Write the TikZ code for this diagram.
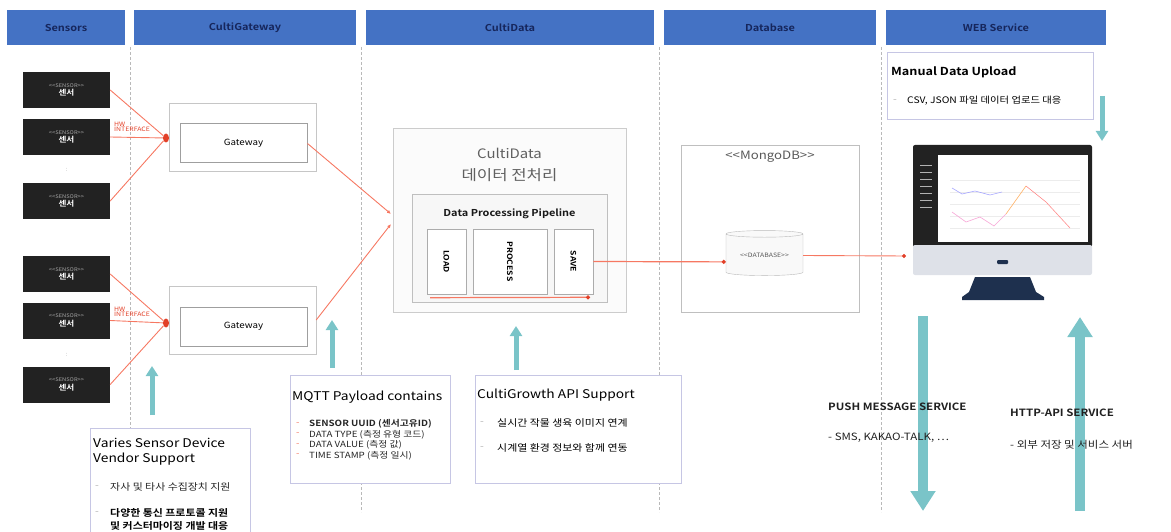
\documentclass[tikz,border=0pt]{standalone}
\usepackage{fontspec}
\setmainfont{Noto Sans CJK KR}[BoldFont={Noto Sans CJK KR Bold}, FakeStretch=1.15]
\usepackage{tikz}
\usetikzlibrary{positioning,arrows.meta,shapes.geometric}

\definecolor{hdrblue}{RGB}{68,114,196}
\definecolor{hdrtext}{RGB}{22,38,92}
\definecolor{sensblack}{RGB}{34,34,34}
\definecolor{wirered}{RGB}{246,120,98}
\definecolor{dotred}{RGB}{226,64,40}
\definecolor{flowteal}{RGB}{122,196,200}
\definecolor{noteline}{RGB}{198,198,228}
\definecolor{monnavy}{RGB}{30,48,78}
\definecolor{chingray}{RGB}{222,225,232}

\newcommand{\fs}[1]{\fontsize{#1}{#1}\selectfont}

\tikzset{
  header/.style={fill=hdrblue, minimum height=35pt, inner sep=0pt,
    font=\bfseries\fs{9.5}, text=hdrtext},
  lane/.style={gray!55, densely dashed, line width=0.5pt},
  sensor/.style={fill=sensblack, minimum width=87pt, minimum height=36pt,
    inner sep=0pt, align=center, text=white, font=\fs{5}},
  gwouter/.style={draw=gray!45, minimum width=147pt, minimum height=68pt},
  gwinner/.style={draw=gray!75, line width=1pt, minimum width=127pt,
    minimum height=39pt, font=\fs{8.5}},
  junction/.style={ellipse, fill=dotred, inner sep=0pt, minimum width=6pt,
    minimum height=9pt},
  hwlabel/.style={text=dotred, font=\fs{6}, align=left, inner sep=0pt},
  wire/.style={draw=wirered, line width=0.9pt},
  flatwire/.style={draw=wirered, line width=1.2pt},
  stagebox/.style={draw=gray!65, line width=0.8pt, fill=white, minimum width=39pt,
    minimum height=65pt, font=\bfseries\fs{7.5}},
  notebox/.style={draw=noteline, line width=0.8pt, fill=white, anchor=north west},
  notehead/.style={anchor=west, inner sep=0pt, font=\fs{12}},
  noteitem/.style={anchor=west, inner sep=0pt, font=\fs{9.5}},
  bigflow/.style={flowteal, line width=10pt, -{Triangle[length=20pt,width=24pt]}},
  smallflow/.style={flowteal, line width=5pt, -{Triangle[length=10pt,width=12pt]}},
  pointer/.style={-{Latex[length=4pt,width=3.5pt]}},
  dottip/.style={-{Circle[length=4pt,color=dotred,fill=dotred]}},
}

\begin{document}
\begin{tikzpicture}[x=1pt, y=-1pt]
  \useasboundingbox (0,0) rectangle (1171,532);

  % swim lanes
  \foreach \x in {130,361,659,881}
    \draw[lane] (\x,47) -- (\x,512);

  % lane headers
  \node[header, minimum width=118pt] (hsens) at (66,27.5) {Sensors};
  \node[header, minimum width=222pt] (hgw) at (245,27.5) {CultiGateway};
  \node[header, minimum width=288pt] (hdata) at (510,27.5) {CultiData};
  \node[header, minimum width=212pt] (hdb) at (770,27.5) {Database};
  \node[header, minimum width=220pt] (hweb) at (996,27.5) {WEB Service};

  % sensor devices, two groups
  \node[sensor] (s1) at (66.5,90) {{\color{gray!70}<{}<SENSOR>{}>}\\[1pt]{\bfseries\fs{7.5}센서}};
  \node[sensor] (s2) at (66.5,137) {{\color{gray!70}<{}<SENSOR>{}>}\\[1pt]{\bfseries\fs{7.5}센서}};
  \node[sensor] (s3) at (66.5,201) {{\color{gray!70}<{}<SENSOR>{}>}\\[1pt]{\bfseries\fs{7.5}센서}};
  \node[text=gray!60, font=\fs{6}] (dots1) at (66.5,170) {:};
  \node[sensor] (s4) at (66.5,274) {{\color{gray!70}<{}<SENSOR>{}>}\\[1pt]{\bfseries\fs{7.5}센서}};
  \node[sensor] (s5) at (66.5,320.5) {{\color{gray!70}<{}<SENSOR>{}>}\\[1pt]{\bfseries\fs{7.5}센서}};
  \node[sensor] (s6) at (66.5,384.5) {{\color{gray!70}<{}<SENSOR>{}>}\\[1pt]{\bfseries\fs{7.5}센서}};
  \node[text=gray!60, font=\fs{6}] (dots2) at (66.5,355) {:};

  % gateways
  \node[gwouter] (gw1box) at (242.5,137) {};
  \node[gwinner] (gw1) at (243.5,143.5) {Gateway};
  \node[gwouter] (gw2box) at (242.5,320) {};
  \node[gwinner] (gw2) at (243.5,326.5) {Gateway};
  \node[junction] (j1) at (166,138) {};
  \node[junction] (j2) at (166,323) {};

  % sensor wiring
  \foreach \s in {s1,s2,s3}
    \draw[wire] (\s.east) -- (j1);
  \foreach \s in {s4,s5,s6}
    \draw[wire] (\s.east) -- (j2);
  \node[hwlabel, anchor=south west] (hw1) at (114,132) {HW\\[-1pt]INTERFACE};
  \node[hwlabel, anchor=south west] (hw2) at (114,317) {HW\\[-1pt]INTERFACE};

  % preprocessing block
  \node[draw=gray!40, fill=gray!3, minimum width=233pt, minimum height=184pt] (cdbox) at (509.5,220) {};
  \node[font=\fs{13}, text=gray!75!black] (cdtitle) at (509.5,153) {CultiData};
  \node[font=\fs{14.5}, text=gray!75!black] (cdtitle2) at (509.5,175) {데이터 전처리};
  \node[draw=gray!50, fill=gray!6, minimum width=195pt, minimum height=108pt] (pipe) at (509.5,248) {};
  \node[font=\bfseries\fs{9.5}, text=gray!20!black] (pipetitle) at (509.5,214) {Data Processing Pipeline};
  \node[stagebox] (load) at (446.5,261.5) {\rotatebox{-90}{LOAD}};
  \node[stagebox, minimum width=74pt] (process) at (510,261.5) {\rotatebox{-90}{PROCESS}};
  \node[stagebox] (save) at (573.5,261.5) {\rotatebox{-90}{SAVE}};
  \coordinate (pl0) at (430,297.7);
  \coordinate (pl1) at (590,297.3);
  \draw[flatwire, dottip] (pl0) -- (pl1);

  % gateway uplinks
  \coordinate (cdin1) at (391,214);
  \coordinate (cdin2) at (391,224);
  \draw[wire, pointer] (gw1.east) -- (cdin1);
  \draw[wire, pointer] (gw2box.east) -- (cdin2);

  % storage
  \node[draw=gray!50, minimum width=178pt, minimum height=167pt] (mongo) at (770,228.5) {};
  \node[font=\fs{11.5}, text=gray!70!black] (mongotitle) at (770,157) {<{}<MongoDB>{}>};
  \node[cylinder, shape border rotate=90, aspect=0.12, draw=gray!55, fill=gray!5,
    minimum width=77pt, minimum height=45pt, font=\fs{6}, text=gray!70!black] (db) at (764.5,255.5) {<{}<DATABASE>{}>};
  \draw[flatwire, dottip] (save.east) -- ([yshift=-0.4pt]save.east -| db.west);

  % monitor
  \fill[sensblack, rounded corners=2pt] (913,145) rectangle (1092,247);
  \fill[white] (938,155) rectangle (1088,242);
  \fill[chingray, rounded corners=2pt] (913,245) rectangle (1092,275);
  \fill[monnavy, rounded corners=1pt] (997,260) rectangle (1008,264);
  \fill[monnavy] (975,277) -- (1030,277) -- (1036,292) -- (1044,297) -- (1044,300)
    -- (962,300) -- (962,297) -- (969,292) -- cycle;
  \foreach \y in {180,192,204,216,228}
    \draw[gray!15, line width=0.3pt] (950,\y) -- (1080,\y);
  \draw[blue!35, line width=0.6pt] (952,188) -- (962,194) -- (975,191) -- (990,195) -- (1002,192);
  \draw[magenta!35, line width=0.6pt] (952,212) -- (966,222) -- (980,217) -- (994,226) -- (1006,214);
  \draw[orange!60, line width=0.6pt] (1006,214) -- (1016,200) -- (1026,186);
  \draw[red!45, line width=0.6pt] (1026,186) -- (1046,202) -- (1070,228);
  \foreach \y in {165,172,179,186,193,200,207}
    \draw[gray!60, line width=0.5pt] (920,\y) -- (932,\y);
  \coordinate (monin) at (906,256);
  \draw[wire, dottip] (db.east) -- (monin);

  % feature arrows
  \coordinate (vsTail) at (152,415);  \coordinate (vsTip) at (152,366);
  \coordinate (mqTail) at (332,368);  \coordinate (mqTip) at (332,320);
  \coordinate (cgTail) at (516,370);  \coordinate (cgTip) at (516,326);
  \coordinate (upTail) at (1102,96);  \coordinate (upTip) at (1102,141);
  \coordinate (pushTail) at (923,316); \coordinate (pushTip) at (923,511);
  \coordinate (httpTail) at (1080,511); \coordinate (httpTip) at (1080,317);
  \draw[smallflow] (vsTail) -- (vsTip);
  \draw[smallflow] (mqTail) -- (mqTip);
  \draw[smallflow] (cgTail) -- (cgTip);
  \draw[smallflow] (upTail) -- (upTip);
  \draw[bigflow] (pushTail) -- (pushTip);
  \draw[bigflow] (httpTail) -- (httpTip);

  % vendor note
  \node[notebox, minimum width=160pt, minimum height=130pt] (vendor) at (90,428) {};
  \node[notehead] (vendorhead) at (93,443) {Varies Sensor Device};
  \node[notehead] (vendorhead2) at (93,459) {Vendor Support};
  \node[noteitem, text=gray!60] at (95,487) {-};
  \node[noteitem, text=gray!30!black] (vendor1) at (110,487) {자사 및 타사 수집장치 지원};
  \node[noteitem, text=gray!60] at (95,513) {-};
  \node[noteitem, font=\bfseries\fs{9.5}] (vendor2) at (110,513) {다양한 통신 프로토콜 지원};
  \node[noteitem, font=\bfseries\fs{9.5}] (vendor3) at (110,525.5) {및 커스터마이징 개발 대응};

  % payload note
  \node[notebox, minimum width=160pt, minimum height=108pt] (mqtt) at (290,375) {};
  \node[notehead] (mqtthead) at (292,397) {MQTT Payload contains};
  \foreach \y/\t in {424/{\bfseries SENSOR UUID (센서고유ID)}, 434.5/DATA TYPE (측정 유형 코드),
      445/DATA VALUE (측정 값), 455.5/TIME STAMP (측정 일시)} {
    \node[noteitem, text=wirered, font=\fs{8.5}] at (296,\y) {-};
    \node[noteitem, text=gray!30!black, font=\fs{8.5}] at (309,\y) {\t};
  }

  % growth API note
  \node[notebox, minimum width=206pt, minimum height=108pt] (growth) at (475,375) {};
  \node[notehead] (growthhead) at (477,395) {CultiGrowth API Support};
  \node[noteitem, text=gray!60] at (480,423) {-};
  \node[noteitem] (growth1) at (497,423) {실시간 작물 생육 이미지 연계};
  \node[noteitem, text=gray!60] at (480,448) {-};
  \node[noteitem] (growth2) at (497,448) {시계열 환경 정보와 함께 연동};

  % upload note
  \node[notebox, minimum width=206pt, minimum height=67pt] (upload) at (887,52) {};
  \node[notehead, font=\bfseries\fs{11}] (uploadhead) at (891,72) {Manual Data Upload};
  \node[noteitem, text=gray!60] at (893,101) {-};
  \node[noteitem, font=\fs{9}] (upload1) at (907,101) {CSV, JSON 파일 데이터 업로드 대응};

  % outbound services
  \node[noteitem, font=\bfseries\fs{10}, text=gray!25!black] (push) at (828,407) {PUSH MESSAGE SERVICE};
  \node[noteitem, font=\fs{10}, text=gray!25!black] (push1) at (828,438) {- SMS, KAKAO-TALK, …};
  \node[noteitem, font=\bfseries\fs{10}, text=gray!25!black] (http) at (1010,413) {HTTP-API SERVICE};
  \node[noteitem, font=\fs{10}, text=gray!25!black] (http1) at (1010,445) {- 외부 저장 및 서비스 서버};
\end{tikzpicture}
\end{document}
